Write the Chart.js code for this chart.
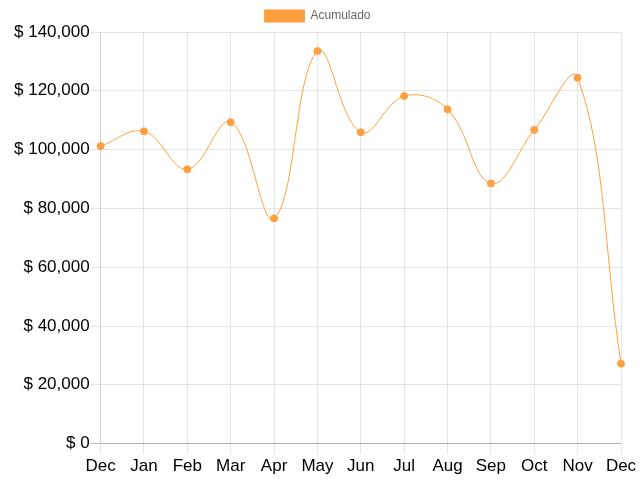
<!DOCTYPE html>
<html>
<head>
<meta charset="utf-8">
<script src="https://cdn.jsdelivr.net/npm/chart.js@4/dist/chart.umd.min.js"></script>
<style>
html,body{margin:0;padding:0;background:#fff;}
#wrap{width:640px;height:480px;}
</style>
</head>
<body>
<div id="wrap"><canvas id="c" width="640" height="480"></canvas></div>
<script>
const categories = ["Dec","Jan","Feb","Mar","Apr","May","Jun","Jul","Aug","Sep","Oct","Nov","Dec"];
const acumulado = [101200,106200,93300,109300,76600,133500,105900,118200,113700,88500,106700,124400,27200];
const yTicks = {min:0, max:140000, step:20000};
const seriesName = "Acumulado";

const orange = "rgb(255,159,64)";
const tickFont = {family: "'Liberation Sans', Arial, sans-serif", size: 17};
new Chart(document.getElementById("c"), {
  type: "line",
  data: {
    labels: categories,
    datasets: [{
      label: seriesName,
      data: acumulado,
      borderColor: orange,
      backgroundColor: orange,
      borderWidth: 1,
      pointRadius: 3.5,
      pointBackgroundColor: orange,
      pointBorderColor: orange,
      tension: 0.4,
      fill: false
    }]
  },
  options: {
    responsive: false,
    animation: false,
    layout: {padding: {left: 14, right: 19, top: 0, bottom: 0}},
    plugins: {
      legend: {
        labels: {
          boxWidth: 40, boxHeight: 12,
          color: "#666",
          font: {family: "'Liberation Sans', Arial, sans-serif", size: 12}
        }
      },
      tooltip: {enabled: false}
    },
    scales: {
      x: {
        grid: {color: "rgba(0,0,0,0.1)", tickLength: 10},
        border: {color: "rgba(0,0,0,0.1)"},
        ticks: {color: "#000", maxRotation: 0, autoSkip: false, padding: 3, font: tickFont}
      },
      y: {
        min: yTicks.min, max: yTicks.max,
        grid: {
          color: (ctx) => (ctx.tick && ctx.tick.value === 0) ? "rgba(0,0,0,0.25)" : "rgba(0,0,0,0.1)",
          tickLength: 11
        },
        border: {color: "rgba(0,0,0,0.1)"},
        ticks: {
          stepSize: yTicks.step,
          color: "#000",
          padding: 0,
          font: tickFont,
          callback: (v) => "$ " + Number(v).toLocaleString("en-US")
        }
      }
    }
  }
});
</script>
</body>
</html>
